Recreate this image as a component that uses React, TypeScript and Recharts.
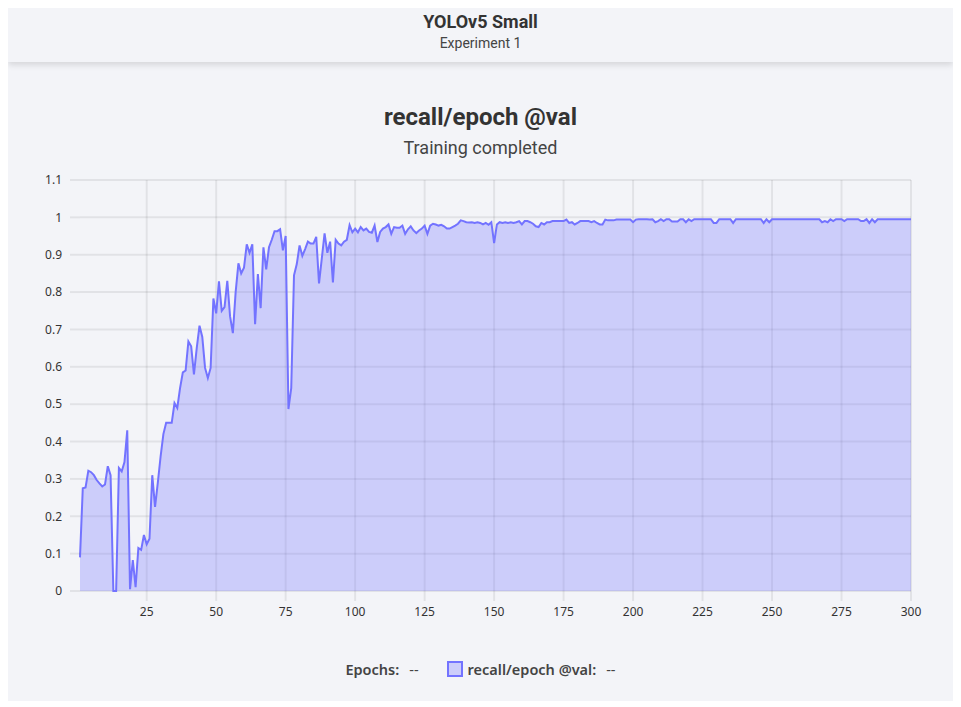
import React from 'react';
import { AreaChart, Area, XAxis, YAxis, CartesianGrid } from 'recharts';

// recall/epoch @val for a 300-epoch YOLOv5 Small run

const RECALL = [
  0.09, 0.275, 0.277, 0.322, 0.318, 0.31, 0.297, 0.288, 0.28, 0.285,
  0.334, 0.31, 0.0, 0.0, 0.329, 0.32, 0.345, 0.43, 0.005, 0.083,
  0.01, 0.115, 0.11, 0.15, 0.125, 0.14, 0.31, 0.225, 0.29, 0.36,
  0.42, 0.45, 0.45, 0.45, 0.503, 0.49, 0.543, 0.585, 0.59, 0.668,
  0.655, 0.58, 0.65, 0.71, 0.68, 0.597, 0.57, 0.597, 0.783, 0.743,
  0.829, 0.75, 0.76, 0.83, 0.735, 0.69, 0.8, 0.877, 0.85, 0.865,
  0.928, 0.905, 0.928, 0.714, 0.848, 0.757, 0.92, 0.861, 0.92, 0.94,
  0.963, 0.963, 0.968, 0.912, 0.95, 0.487, 0.543, 0.845, 0.875, 0.925,
  0.897, 0.915, 0.935, 0.93, 0.93, 0.948, 0.823, 0.89, 0.957, 0.905,
  0.935, 0.826, 0.94, 0.93, 0.925, 0.935, 0.94, 0.979, 0.96, 0.97,
  0.96, 0.974, 0.965, 0.97, 0.961, 0.959, 0.978, 0.934, 0.961, 0.97,
  0.974, 0.981, 0.956, 0.974, 0.972, 0.972, 0.978, 0.956, 0.968, 0.976,
  0.965, 0.958, 0.965, 0.97, 0.978, 0.956, 0.978, 0.983, 0.981, 0.978,
  0.98, 0.976, 0.97, 0.97, 0.974, 0.978, 0.983, 0.992, 0.99, 0.987,
  0.986, 0.987, 0.985, 0.987, 0.985, 0.981, 0.985, 0.98, 0.987, 0.931,
  0.981, 0.987, 0.985, 0.987, 0.985, 0.987, 0.985, 0.987, 0.99, 0.981,
  0.99, 0.99, 0.987, 0.983, 0.976, 0.974, 0.985, 0.981, 0.987, 0.987,
  0.99, 0.99, 0.99, 0.99, 0.99, 0.994, 0.985, 0.987, 0.981, 0.985,
  0.99, 0.99, 0.99, 0.99, 0.987, 0.99, 0.985, 0.981, 0.981, 0.994,
  0.992, 0.992, 0.992, 0.994, 0.994, 0.994, 0.994, 0.994, 0.994, 0.987,
  0.994, 0.995, 0.995, 0.995, 0.995, 0.994, 0.995, 0.987, 0.99, 0.995,
  0.99, 0.995, 0.995, 0.989, 0.989, 0.989, 0.995, 0.995, 0.987, 0.995,
  0.99, 0.995, 0.995, 0.995, 0.995, 0.995, 0.995, 0.995, 0.985, 0.985,
  0.995, 0.995, 0.995, 0.995, 0.995, 0.985, 0.995, 0.995, 0.995, 0.995,
  0.995, 0.995, 0.995, 0.995, 0.995, 0.995, 0.985, 0.995, 0.987, 0.995,
  0.995, 0.995, 0.995, 0.995, 0.995, 0.995, 0.995, 0.995, 0.995, 0.995,
  0.995, 0.995, 0.995, 0.995, 0.995, 0.995, 0.995, 0.987, 0.99, 0.987,
  0.995, 0.99, 0.995, 0.995, 0.995, 0.99, 0.995, 0.995, 0.995, 0.995,
  0.995, 0.99, 0.99, 0.995, 0.985, 0.995, 0.987, 0.995, 0.995, 0.995,
  0.995, 0.995, 0.995, 0.995, 0.995, 0.995, 0.995, 0.995, 0.995, 0.995,
];

const X_TICKS = [25, 50, 75, 100, 125, 150, 175, 200, 225, 250, 275, 300];
const Y_TICKS = [0, 0.1, 0.2, 0.3, 0.4, 0.5, 0.6, 0.7, 0.8, 0.9, 1, 1.1];

const data = RECALL.map((v, i) => ({ epoch: i + 1, recall: v }));

const BG = '#f3f4f8';
const LINE = '#7373ff';
const FILL = 'rgba(115,115,255,0.3)';
const GRID = 'rgba(0,0,0,0.07)';
const UI_FONT = '"Noto Sans", "Open Sans", sans-serif';

export default function App() {
  return (
    <div style={{ position: 'relative', width: 945, height: 696, marginTop: -3, background: BG, fontFamily: UI_FONT, overflow: 'hidden' }}>
      {/* Header */}
      <div style={{ height: 57, textAlign: 'center', boxShadow: '0 3px 6px rgba(0,0,0,0.12)', background: BG, position: 'relative', zIndex: 1 }}>
        <div style={{ paddingTop: 6, fontFamily: 'Roboto, sans-serif', fontSize: 18, lineHeight: '22px', fontWeight: 700, color: '#333' }}>YOLOv5 Small</div>
        <div style={{ marginTop: 1, fontFamily: 'Roboto, sans-serif', fontSize: 14, lineHeight: '18px', color: '#444' }}>Experiment 1</div>
      </div>

      {/* Chart title */}
      <div style={{ position: 'absolute', top: 98, left: 0, width: 945, textAlign: 'center' }}>
        <div style={{ fontFamily: 'Roboto, sans-serif', fontSize: 24, fontWeight: 700, color: '#333', lineHeight: '28px' }}>recall/epoch @val</div>
        <div style={{ fontFamily: 'Roboto, sans-serif', fontSize: 18, color: '#444', marginTop: 6, lineHeight: '22px' }}>Training completed</div>
      </div>

      <div style={{ position: 'absolute', top: 165, left: 0 }}>
        <AreaChart width={945} height={451} data={data} margin={{ top: 10, right: 42, left: 22, bottom: 0 }}>
          <CartesianGrid stroke={GRID} strokeWidth={2} horizontalValues={Y_TICKS} verticalValues={X_TICKS} />
          <XAxis
            dataKey="epoch"
            type="number"
            domain={[1, 300]}
            ticks={X_TICKS}
            axisLine={false}
            tickLine={{ stroke: GRID, strokeWidth: 2 }}
            tickSize={10}
            tickMargin={6}
            height={30}
            tick={{ fontSize: 12, fill: '#333', fontFamily: UI_FONT }}
          />
          <YAxis
            type="number"
            domain={[0, 1.1]}
            ticks={Y_TICKS}
            interval={0}
            axisLine={false}
            tickLine={{ stroke: GRID, strokeWidth: 2 }}
            tickSize={10}
            tickMargin={8}
            width={50}
            tickFormatter={(v: number) => String(Number(v.toFixed(1)))}
            tick={{ fontSize: 12, fill: '#333', fontFamily: UI_FONT }}
          />
          <Area
            type="linear"
            dataKey="recall"
            stroke={LINE}
            strokeWidth={2}
            fill={FILL}
            fillOpacity={1}
            dot={false}
            activeDot={false}
            isAnimationActive={false}
          />
        </AreaChart>
      </div>

      {/* Legend */}
      <div style={{ position: 'absolute', top: 654, left: 0, width: 945, display: 'flex', justifyContent: 'center', alignItems: 'center', fontSize: 14.5, color: '#444' }}>
        <span style={{ fontWeight: 600 }}>Epochs:</span>
        <span style={{ marginLeft: 10 }}>--</span>
        <span style={{ display: 'inline-block', width: 12, height: 12, border: `2px solid ${LINE}`, background: FILL, marginLeft: 28, marginRight: 5 }} />
        <span style={{ fontWeight: 600 }}>recall/epoch @val:</span>
        <span style={{ marginLeft: 10 }}>--</span>
      </div>
    </div>
  );
}
